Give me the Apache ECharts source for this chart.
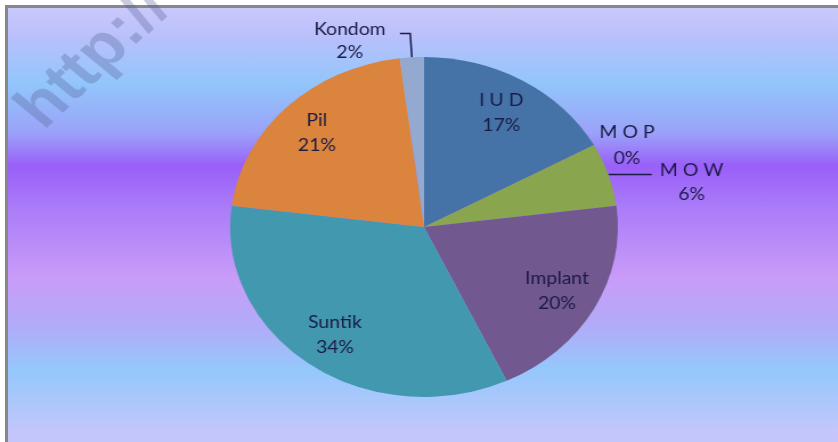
<!DOCTYPE html>
<html>
<head>
<meta charset="utf-8">
<script src="https://cdn.jsdelivr.net/npm/echarts@6/dist/echarts.min.js"></script>
<style>
  html, body { margin: 0; padding: 0; background: #fff; overflow: hidden; }
  #frame {
    position: absolute; left: 5px; top: 5px; width: 840px; height: 445px;
    border-top: 3px solid #878787; border-left: 3px solid #878787;
    background: linear-gradient(to bottom, #cac8fb 0px, #b8c0fb 30px, #92c6fb 75px, #9aa2f8 125px,
      #9a5ff8 158px, #aa7cf8 200px, #c99cf8 270px, #b0acf8 320px, #94c8fb 362px, #c4c6fb 425px);
  }
  /* the source picture is stretched sideways, so the pie is an ellipse */
  #chart {
    position: absolute; left: 0; top: 0; width: 735px; height: 442px;
    transform: scaleX(1.14); transform-origin: 0 0;
  }
</style>
</head>
<body>
<div id="frame"></div>
<div id="chart"></div>
<script>
var names = ['I U D', 'M O P', 'M O W', 'Implant', 'Suntik', 'Pil', 'Kondom']
var values = [17, 0, 6, 20, 34, 21, 2]
var colors = ['#4572a7', '#aa4643', '#89a54e', '#71588f', '#4198af', '#db843d', '#93a9cf']

var R = 170 // pie radius, px
var LABEL_R = 130 // where the inside labels sit
var textColor = '#1b1b45'
var font = 'Lato'

var total = values.reduce(function (a, b) { return a + b }, 0)
function midAngle (i) {
  var cum = 0
  for (var k = 0; k < i; k++) cum += values[k]
  return (cum + values[i] / 2) / total * 360
}

// outside labels (the small slices), everything else goes inside
var outside = {
  'M O P': {
    label: { width: 52, lineHeight: 26, padding: 0, dist: 3 },
    line: { show: false, length: 0, length2: 0 }
  },
  'M O W': {
    label: { width: 60, lineHeight: 24, padding: [16, 0, 0, 0], dist: 5 },
    line: { show: true, length: 0, length2: 38 }
  },
  'Kondom': {
    label: { width: 76, lineHeight: 23, padding: [16, 0, 0, 0], dist: 6 },
    line: { show: true, length: 24, length2: 9 }
  }
}

var data = names.map(function (n, i) {
  var item = { name: n, value: values[i], itemStyle: { color: colors[i] } }
  var o = outside[n]
  if (o) {
    item.label = {
      position: 'outside',
      formatter: '{t|{b}}\n{t|{c}%}',
      padding: o.label.padding,
      distanceToLabelLine: o.label.dist,
      rich: {
        t: {
          width: o.label.width,
          align: 'center',
          lineHeight: o.label.lineHeight,
          fontFamily: font,
          fontSize: 17,
          color: textColor
        }
      }
    }
    item.labelLine = {
      show: o.line.show,
      length: o.line.length,
      length2: o.line.length2,
      lineStyle: { color: textColor, width: 1.5 }
    }
  } else {
    item.label = { position: 'inside' }
  }
  return item
})

var chart = echarts.init(document.getElementById('chart'))
chart.setOption({
  animation: false,
  backgroundColor: 'transparent',
  graphic: [
    {
      // faint watermark in the top left corner
      type: 'text',
      x: 48,
      y: 140,
      rotation: 0.82,
      z: 0,
      style: {
        text: 'http://',
        font: 'bold 60px "Liberation Sans"',
        fill: 'rgba(85,95,150,0.32)',
        textVerticalAlign: 'bottom'
      }
    }
  ],
  series: [
    {
      type: 'pie',
      z: 2,
      center: [372, 227],
      radius: R,
      startAngle: 90,
      clockwise: true,
      avoidLabelOverlap: false,
      minShowLabelAngle: 0,
      itemStyle: { borderWidth: 0 },
      emphasis: { disabled: true },
      label: {
        show: true,
        formatter: '{b}\n{c}%',
        fontFamily: font,
        fontSize: 17,
        lineHeight: 25,
        color: textColor
      },
      labelLayout: function (p) {
        if (outside[names[p.dataIndex]]) return {}
        var a = midAngle(p.dataIndex) * Math.PI / 180
        var k = LABEL_R - R / 2
        return { dx: k * Math.sin(a), dy: -k * Math.cos(a) }
      },
      data: data
    }
  ]
})
</script>
</body>
</html>
